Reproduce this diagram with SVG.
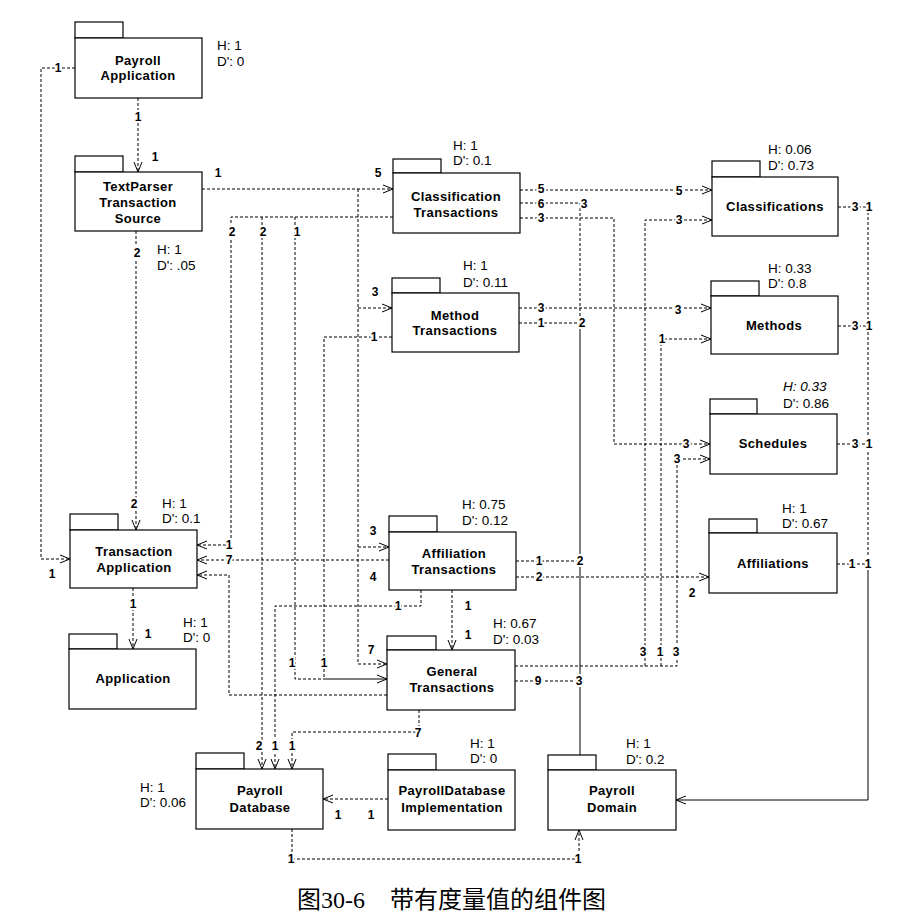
<svg xmlns="http://www.w3.org/2000/svg" width="914" height="921" viewBox="0 0 914 921">
<style>
.b{fill:#fff;stroke:#000;stroke-width:1.2}
.n{font-family:"Liberation Sans",Arial,sans-serif;font-size:13px;font-weight:bold;letter-spacing:0.4px;text-anchor:middle;fill:#000}
.m{font-family:"Liberation Sans",Arial,sans-serif;font-size:13.5px;fill:#000}
.l{font-family:"Liberation Sans",Arial,sans-serif;font-size:12px;font-weight:bold;text-anchor:middle;fill:#000;stroke:#fff;stroke-width:4px;stroke-linejoin:round;paint-order:stroke}
.d{fill:none;stroke:#000;stroke-width:1;stroke-dasharray:3 2}
.s{fill:none;stroke:#000;stroke-width:1}
.a{marker-end:url(#arr)}
.cap{font-family:"Liberation Serif","Noto Sans CJK SC",serif;font-size:24px;fill:#000}
</style>
<defs>
<marker id="arr" markerWidth="12" markerHeight="10" refX="11" refY="5" orient="auto" markerUnits="userSpaceOnUse">
<path d="M1,1 L11,5 L1,9" fill="none" stroke="#000" stroke-width="1"/>
</marker>
</defs>
<rect width="914" height="921" fill="#fff"/>

<g id="connectors">
<path class="d a" d="M75,68 H41 V559 H70"/>
<path class="d a" d="M138,98 V172"/>
<path class="d a" d="M136,231 V530"/>
<path class="d a" d="M202,189 H393"/>
<path class="d a" d="M358,189 V664 H387"/>
<path class="d a" d="M358,308 H392"/>
<path class="d a" d="M358,547 H389"/>
<path class="d a" d="M393,217 H231 V545 H197"/>
<path class="d a" d="M262,217 V769"/>
<path class="d" d="M295,217 V679 H324"/>
<path class="d" d="M392,337 H324 V679"/>
<path class="s a" d="M324,679 H387"/>
<path class="d a" d="M421,590 V606 H275 V769"/>
<path class="d a" d="M419,710 V732 H292 V769"/>
<path class="d a" d="M389,560 H197"/>
<path class="d a" d="M387,695 H229 V575 H197"/>
<path class="d a" d="M452,590 V650"/>
<path class="d a" d="M133,588 V649"/>
<path class="d a" d="M520,190 H712"/>
<path class="d" d="M520,203 H580 V323"/>
<path class="s a" d="M580,323 V770"/>
<path class="d a" d="M520,218 H614 V444 H710"/>
<path class="d a" d="M519,308 H711"/>
<path class="d" d="M519,323 H580"/>
<path class="d" d="M516,561 H580"/>
<path class="d a" d="M516,577 H709"/>
<path class="d" d="M515,681 H580"/>
<path class="d a" d="M515,666 H677 V459 H710"/>
<path class="d a" d="M661,666 V339 H711"/>
<path class="d a" d="M645,666 V220 H712"/>
<path class="d" d="M838,207 H868 V563"/>
<path class="s a" d="M868,563 V800 H676"/>
<path class="d" d="M838,326 H868"/>
<path class="d" d="M837,444 H868"/>
<path class="d" d="M837,564 H868"/>
<path class="d a" d="M388,799 H323"/>
<path class="d a" d="M292,829 V859 H579 V830"/>
</g>

<g id="labels">
<text class="l" x="58" y="72">1</text>
<text class="l" x="138" y="121">1</text>
<text class="l" x="155" y="161">1</text>
<text class="l" x="218" y="177">1</text>
<text class="l" x="137" y="257">2</text>
<text class="l" x="378" y="177">5</text>
<text class="l" x="232" y="236">2</text>
<text class="l" x="263" y="236">2</text>
<text class="l" x="297" y="236">1</text>
<text class="l" x="541" y="193">5</text>
<text class="l" x="541" y="208">6</text>
<text class="l" x="584" y="208">3</text>
<text class="l" x="541" y="222">3</text>
<text class="l" x="679" y="195">5</text>
<text class="l" x="679" y="224">3</text>
<text class="l" x="855" y="211">3</text>
<text class="l" x="869" y="211">1</text>
<text class="l" x="375" y="296">3</text>
<text class="l" x="374" y="341">1</text>
<text class="l" x="541" y="312">3</text>
<text class="l" x="541" y="327">1</text>
<text class="l" x="582" y="327">2</text>
<text class="l" x="678" y="314">3</text>
<text class="l" x="662" y="343">1</text>
<text class="l" x="855" y="330">3</text>
<text class="l" x="869" y="330">1</text>
<text class="l" x="686" y="448">3</text>
<text class="l" x="677" y="463">3</text>
<text class="l" x="855" y="448">3</text>
<text class="l" x="869" y="448">1</text>
<text class="l" x="134" y="508">2</text>
<text class="l" x="229" y="549">1</text>
<text class="l" x="229" y="564">7</text>
<text class="l" x="52" y="578">1</text>
<text class="l" x="373" y="535">3</text>
<text class="l" x="373" y="581">4</text>
<text class="l" x="539" y="565">1</text>
<text class="l" x="580" y="565">2</text>
<text class="l" x="539" y="581">2</text>
<text class="l" x="692" y="597">2</text>
<text class="l" x="852" y="568">1</text>
<text class="l" x="868" y="568">1</text>
<text class="l" x="133" y="608">1</text>
<text class="l" x="148" y="638">1</text>
<text class="l" x="398" y="610">1</text>
<text class="l" x="468" y="610">1</text>
<text class="l" x="468" y="639">1</text>
<text class="l" x="643" y="656">3</text>
<text class="l" x="660" y="656">1</text>
<text class="l" x="676" y="656">3</text>
<text class="l" x="292" y="667">1</text>
<text class="l" x="324" y="667">1</text>
<text class="l" x="371" y="654">7</text>
<text class="l" x="538" y="685">9</text>
<text class="l" x="579" y="685">3</text>
<text class="l" x="418" y="737">7</text>
<text class="l" x="259" y="750">2</text>
<text class="l" x="275" y="750">1</text>
<text class="l" x="292" y="750">1</text>
<text class="l" x="338" y="819">1</text>
<text class="l" x="371" y="819">1</text>
<text class="l" x="291" y="863">1</text>
<text class="l" x="578" y="863">1</text>
</g>

<g id="payroll-application">
<rect class="b" x="75" y="22" width="48" height="16"/>
<rect class="b" x="75" y="38" width="127" height="60"/>
<text class="n" x="138" y="65">Payroll</text>
<text class="n" x="138" y="80">Application</text>
<text class="m" x="217" y="50">H: 1</text>
<text class="m" x="217" y="66">D': 0</text>
</g>

<g id="textparser-transaction-source">
<rect class="b" x="75" y="156" width="48" height="16"/>
<rect class="b" x="75" y="172" width="127" height="59"/>
<text class="n" x="138" y="191">TextParser</text>
<text class="n" x="138" y="207">Transaction</text>
<text class="n" x="138" y="223">Source</text>
<text class="m" x="157" y="254">H: 1</text>
<text class="m" x="157" y="270">D': .05</text>
</g>

<g id="classification-transactions">
<rect class="b" x="393" y="159" width="48" height="14"/>
<rect class="b" x="393" y="173" width="127" height="60"/>
<text class="n" x="456" y="201">Classification</text>
<text class="n" x="456" y="217">Transactions</text>
<text class="m" x="453" y="150">H: 1</text>
<text class="m" x="453" y="165">D': 0.1</text>
</g>

<g id="method-transactions">
<rect class="b" x="392" y="278" width="48" height="15"/>
<rect class="b" x="392" y="293" width="127" height="59"/>
<text class="n" x="455" y="320">Method</text>
<text class="n" x="455" y="335">Transactions</text>
<text class="m" x="463" y="270">H: 1</text>
<text class="m" x="463" y="287">D': 0.11</text>
</g>

<g id="classifications">
<rect class="b" x="712" y="161" width="48" height="16"/>
<rect class="b" x="712" y="177" width="126" height="59"/>
<text class="n" x="775" y="211">Classifications</text>
<text class="m" x="768" y="154">H: 0.06</text>
<text class="m" x="768" y="170">D': 0.73</text>
</g>

<g id="methods">
<rect class="b" x="711" y="281" width="48" height="15"/>
<rect class="b" x="711" y="296" width="127" height="58"/>
<text class="n" x="774" y="330">Methods</text>
<text class="m" x="768" y="273">H: 0.33</text>
<text class="m" x="768" y="288">D': 0.8</text>
</g>

<g id="schedules">
<rect class="b" x="710" y="399" width="47" height="15"/>
<rect class="b" x="710" y="414" width="127" height="60"/>
<text class="n" x="773" y="448">Schedules</text>
<text class="m" x="783" y="391" font-style="italic">H: 0.33</text>
<text class="m" x="783" y="408">D': 0.86</text>
</g>

<g id="affiliations">
<rect class="b" x="709" y="519" width="48" height="14"/>
<rect class="b" x="709" y="533" width="128" height="60"/>
<text class="n" x="773" y="568">Affiliations</text>
<text class="m" x="782" y="513">H: 1</text>
<text class="m" x="782" y="528">D': 0.67</text>
</g>

<g id="transaction-application">
<rect class="b" x="70" y="514" width="48" height="16"/>
<rect class="b" x="70" y="530" width="127" height="58"/>
<text class="n" x="134" y="556">Transaction</text>
<text class="n" x="134" y="572">Application</text>
<text class="m" x="162" y="508">H: 1</text>
<text class="m" x="162" y="523">D': 0.1</text>
</g>

<g id="application">
<rect class="b" x="69" y="634" width="48" height="15"/>
<rect class="b" x="69" y="649" width="127" height="60"/>
<text class="n" x="133" y="683">Application</text>
<text class="m" x="183" y="627">H: 1</text>
<text class="m" x="183" y="642">D': 0</text>
</g>

<g id="affiliation-transactions">
<rect class="b" x="389" y="516" width="48" height="16"/>
<rect class="b" x="389" y="532" width="127" height="58"/>
<text class="n" x="454" y="558">Affiliation</text>
<text class="n" x="454" y="574">Transactions</text>
<text class="m" x="462" y="509">H: 0.75</text>
<text class="m" x="462" y="525">D': 0.12</text>
</g>

<g id="general-transactions">
<rect class="b" x="387" y="636" width="49" height="14"/>
<rect class="b" x="387" y="650" width="128" height="60"/>
<text class="n" x="452" y="676">General</text>
<text class="n" x="452" y="692">Transactions</text>
<text class="m" x="493" y="628">H: 0.67</text>
<text class="m" x="493" y="644">D': 0.03</text>
</g>

<g id="payroll-database">
<rect class="b" x="196" y="753" width="48" height="16"/>
<rect class="b" x="196" y="769" width="127" height="60"/>
<text class="n" x="260" y="795">Payroll</text>
<text class="n" x="260" y="812">Database</text>
<text class="m" x="140" y="792">H: 1</text>
<text class="m" x="140" y="807">D': 0.06</text>
</g>

<g id="payrolldatabase-implementation">
<rect class="b" x="388" y="754" width="48" height="16"/>
<rect class="b" x="388" y="770" width="127" height="60"/>
<text class="n" x="452" y="795">PayrollDatabase</text>
<text class="n" x="452" y="812">Implementation</text>
<text class="m" x="470" y="748">H: 1</text>
<text class="m" x="470" y="763">D': 0</text>
</g>

<g id="payroll-domain">
<rect class="b" x="548" y="755" width="48" height="15"/>
<rect class="b" x="548" y="770" width="128" height="60"/>
<text class="n" x="612" y="795">Payroll</text>
<text class="n" x="612" y="812">Domain</text>
<text class="m" x="626" y="748">H: 1</text>
<text class="m" x="626" y="764">D': 0.2</text>
</g>

<g id="caption">
<text class="cap" x="297" y="908">图30-6</text>
<text class="cap" x="390" y="908">带有度量值的组件图</text>
</g>
</svg>
